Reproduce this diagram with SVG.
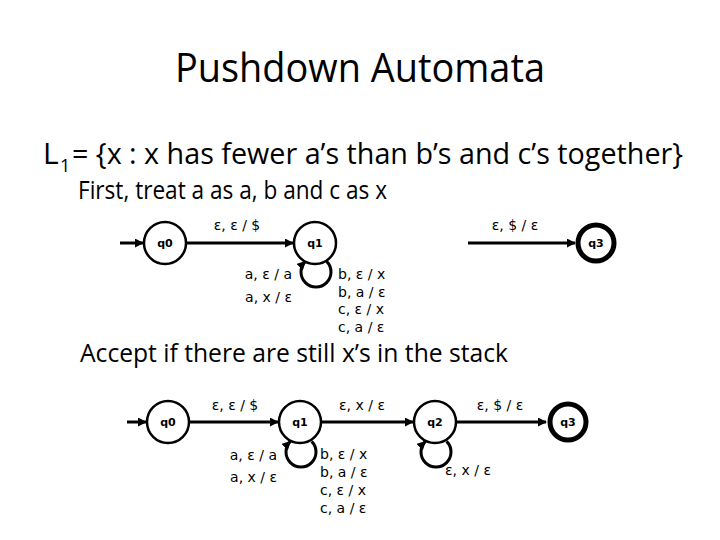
<svg xmlns="http://www.w3.org/2000/svg" width="720" height="540" viewBox="0 0 720 540">
<defs>
<style>
.h{font-family:"Open Sans","Noto Sans",sans-serif;fill:#000}
.l{font-family:"DejaVu Sans","Liberation Sans",sans-serif;font-size:14px;fill:#000}
.s{font-family:"DejaVu Sans","Liberation Sans",sans-serif;font-size:11px;font-weight:bold;fill:#000;text-anchor:middle}
.st{fill:#fff;stroke:#000;stroke-width:2.5}
.fin{fill:#fff;stroke:#000;stroke-width:5}
.e{fill:none;stroke:#000;stroke-width:3}
.lp{fill:none;stroke:#000;stroke-width:3}
</style>
<marker id="ah" viewBox="0 0 10 10" refX="9" refY="5" markerWidth="9" markerHeight="9" markerUnits="userSpaceOnUse" orient="auto">
<path d="M0,0 L10,5 L0,10 z" fill="#000"/>
</marker>
</defs>
<rect width="720" height="540" fill="#fff"/>
<text class="h" x="175" y="82" font-size="40" textLength="370" lengthAdjust="spacingAndGlyphs">Pushdown Automata</text>
<text class="h" x="43" y="164" font-size="30">L</text>
<text class="h" x="60" y="172" font-size="18">1</text>
<text class="h" x="72" y="164" font-size="30" textLength="611" lengthAdjust="spacingAndGlyphs">= {x : x has fewer a’s than b’s and c’s together}</text>
<text class="h" x="78" y="199" font-size="26" textLength="309" lengthAdjust="spacingAndGlyphs">First, treat a as a, b and c as x</text>
<text class="h" x="80" y="362" font-size="26" textLength="428" lengthAdjust="spacingAndGlyphs">Accept if there are still x’s in the stack</text>

<g id="connectors">
<line class="e" x1="120" y1="243" x2="143" y2="243" marker-end="url(#ah)"/>
<line class="e" x1="186" y1="243" x2="293" y2="243" marker-end="url(#ah)"/>
<line class="e" x1="468" y1="243" x2="575" y2="243" marker-end="url(#ah)"/>
<path class="lp" d="M326.6 261.4 A15 15 0 1 1 305.4 261.4" marker-end="url(#ah)"/>
<line class="e" x1="127" y1="422" x2="146" y2="422" marker-end="url(#ah)"/>
<line class="e" x1="189" y1="422" x2="278" y2="422" marker-end="url(#ah)"/>
<line class="e" x1="321" y1="422" x2="413" y2="422" marker-end="url(#ah)"/>
<line class="e" x1="456" y1="422" x2="546" y2="422" marker-end="url(#ah)"/>
<path class="lp" d="M311.6 441.4 A15 15 0 1 1 290.4 441.4" marker-end="url(#ah)"/>
<path class="lp" d="M446.6 441.4 A15 15 0 1 1 425.4 441.4" marker-end="url(#ah)"/>
</g>

<g id="labels">
<text class="l" x="237" y="230" text-anchor="middle">ε, ε / $</text>
<text class="l" x="515" y="230" text-anchor="middle">ε, $ / ε</text>
<text class="l" x="292" y="279" text-anchor="end">a, ε / a</text>
<text class="l" x="292" y="302" text-anchor="end">a, x / ε</text>
<text class="l" x="338" y="279">b, ε / x</text>
<text class="l" x="338" y="297">b, a / ε</text>
<text class="l" x="338" y="314">c, ε / x</text>
<text class="l" x="338" y="332">c, a / ε</text>
<text class="l" x="235" y="410" text-anchor="middle">ε, ε / $</text>
<text class="l" x="362" y="410" text-anchor="middle">ε, x / ε</text>
<text class="l" x="500" y="410" text-anchor="middle">ε, $ / ε</text>
<text class="l" x="277" y="460" text-anchor="end">a, ε / a</text>
<text class="l" x="277" y="482" text-anchor="end">a, x / ε</text>
<text class="l" x="320" y="459">b, ε / x</text>
<text class="l" x="320" y="477">b, a / ε</text>
<text class="l" x="320" y="495">c, ε / x</text>
<text class="l" x="320" y="513">c, a / ε</text>
<text class="l" x="468" y="475" text-anchor="middle">ε, x / ε</text>
</g>

<g id="top-q0"><circle class="st" cx="165" cy="243" r="21"/><text class="s" x="165" y="247">q0</text></g>
<g id="top-q1"><circle class="st" cx="315" cy="243" r="21"/><text class="s" x="315" y="247">q1</text></g>
<g id="top-q3"><circle class="fin" cx="596" cy="243" r="18"/><text class="s" x="596" y="247">q3</text></g>
<g id="bot-q0"><circle class="st" cx="168" cy="422" r="21"/><text class="s" x="168" y="426">q0</text></g>
<g id="bot-q1"><circle class="st" cx="300" cy="422" r="21"/><text class="s" x="300" y="426">q1</text></g>
<g id="bot-q2"><circle class="st" cx="435" cy="422" r="21"/><text class="s" x="435" y="426">q2</text></g>
<g id="bot-q3"><circle class="fin" cx="568" cy="422" r="18"/><text class="s" x="568" y="426">q3</text></g>
</svg>
